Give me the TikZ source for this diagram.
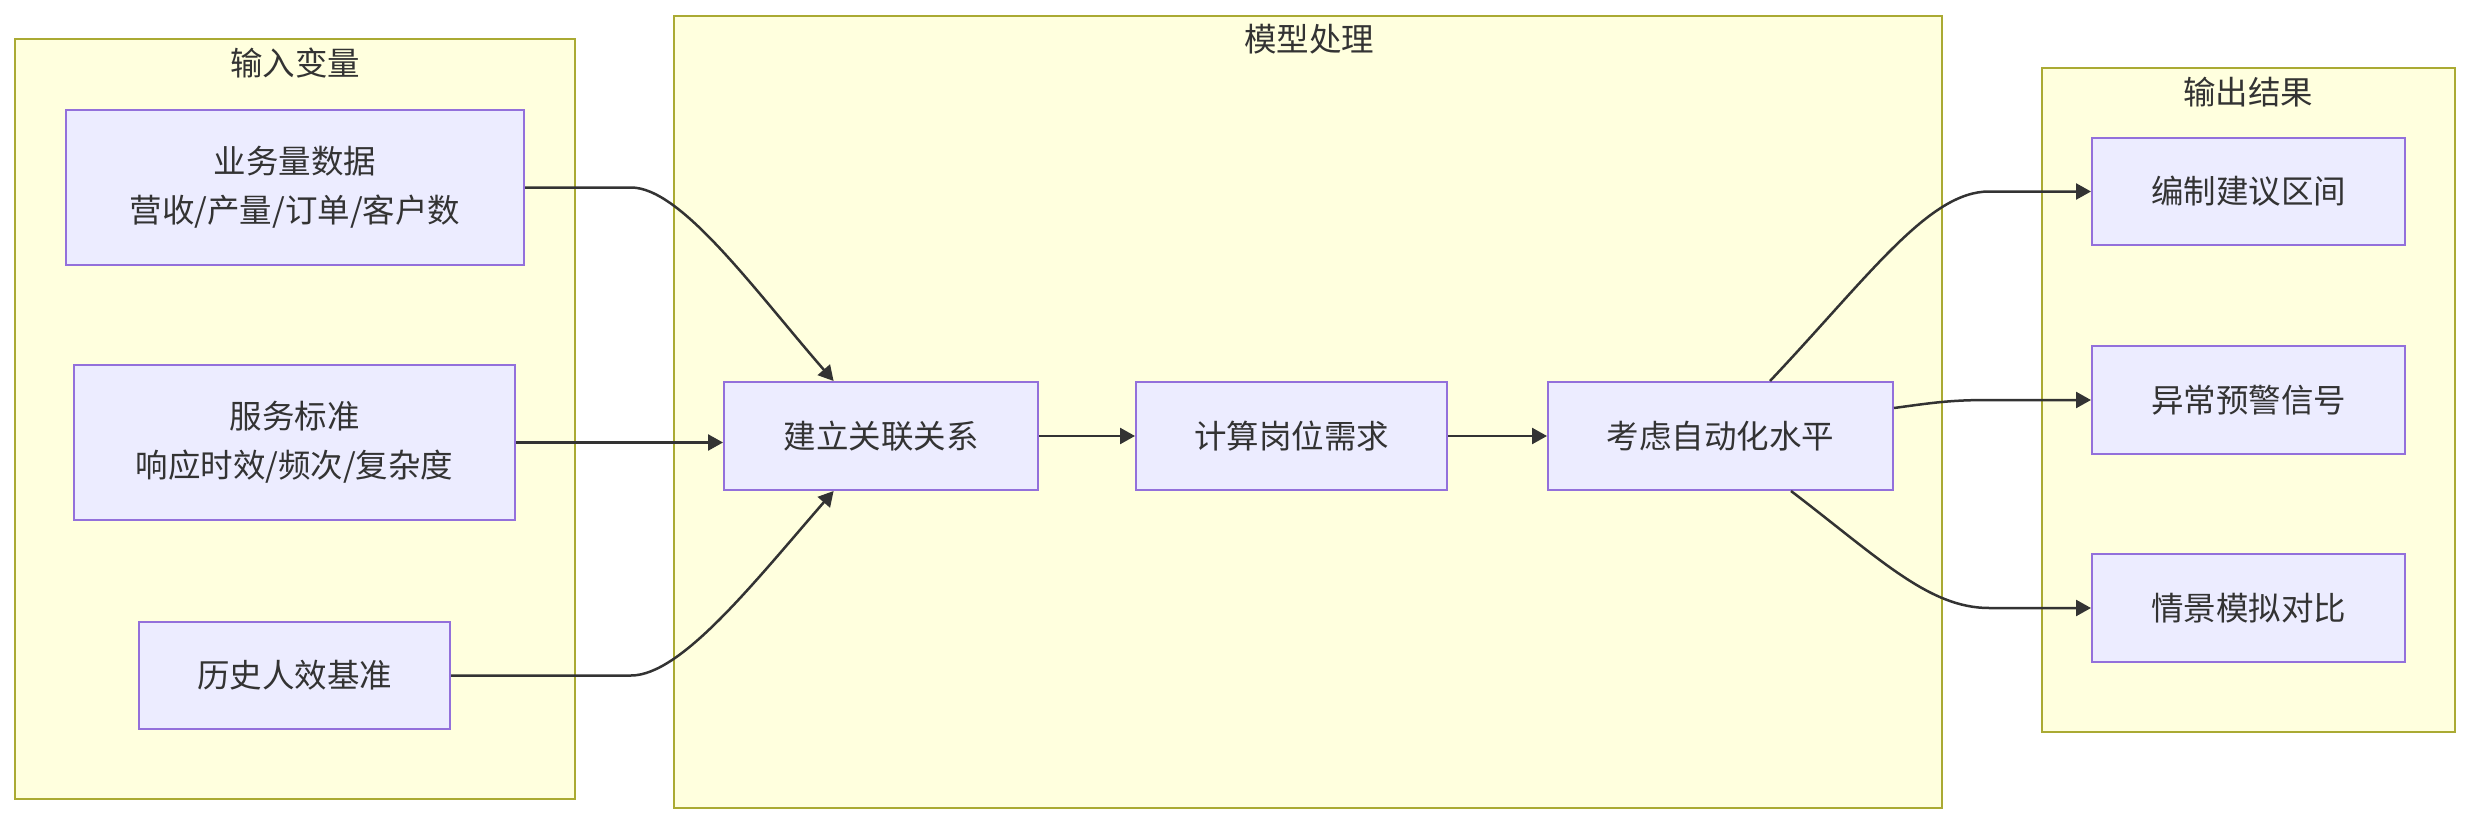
\documentclass[tikz,border=0pt]{standalone}
\usepackage{fontspec}
\setmainfont{Noto Sans CJK SC}
\usetikzlibrary{arrows.meta,calc}
\definecolor{clfill}{HTML}{FFFFDE}
\definecolor{cldraw}{HTML}{AAAA33}
\definecolor{ndfill}{HTML}{ECECFF}
\definecolor{nddraw}{HTML}{9370DB}
\definecolor{txt}{HTML}{333333}
\tikzset{
  cluster/.style={draw=cldraw,fill=clfill,line width=2pt},
  ctitle/.style={text=txt,font=\fontsize{32.5}{40}\selectfont,inner sep=0pt,anchor=center},
  box/.style={draw=nddraw,fill=ndfill,line width=2pt,text=txt,align=center,
    font=\fontsize{32.5}{49}\selectfont,inner sep=0pt,anchor=center},
  arr/.style={draw=txt,line width=2.5pt,-{Triangle[length=15pt,width=16pt]}},
}
\begin{document}
\begin{tikzpicture}[x=1pt,y=-1pt]
\useasboundingbox (0,0) rectangle (2470,824);
\fill[white] (0,0) rectangle (2470,824);
% clusters
\draw[cluster] (15,39) rectangle (575,799);
\node[ctitle] (tin) at (295,63) {输入变量};
\draw[cluster] (674,16) rectangle (1942,808);
\node[ctitle] (tmod) at (1309,39) {模型处理};
\draw[cluster] (2042,68) rectangle (2455,732);
\node[ctitle] (tout) at (2248,92) {输出结果};
% nodes
\node[box,minimum width=458pt,minimum height=155pt] (A) at (295,187.5) {业务量数据\\营收/产量/订单/客户数};
\node[box,minimum width=441pt,minimum height=155pt] (B) at (294.5,442.5) {服务标准\\响应时效/频次/复杂度};
\node[box,minimum width=311pt,minimum height=107pt] (C) at (294.5,675.5) {历史人效基准};
\node[box,minimum width=314pt,minimum height=108pt] (D) at (881,436) {建立关联关系};
\node[box,minimum width=311pt,minimum height=108pt] (E) at (1291.5,436) {计算岗位需求};
\node[box,minimum width=345pt,minimum height=108pt] (F) at (1720.5,436) {考虑自动化水平};
\node[box,minimum width=313pt,minimum height=107pt] (G) at (2248.5,191.5) {编制建议区间};
\node[box,minimum width=313pt,minimum height=108pt] (H) at (2248.5,400) {异常预警信号};
\node[box,minimum width=313pt,minimum height=108pt] (I) at (2248.5,608) {情景模拟对比};
% edges
\draw[arr] (A.east) -- ++(106,0) .. controls +(50,0) and +(-80,-92) .. ($(D.north west)!0.35!(D.north east)$);
\draw[arr] (B.east) -- (B.east -| D.west);
\draw[arr] (C.east) -- ++(180,0) .. controls +(50,0) and +(-80,92) .. ($(D.south west)!0.35!(D.south east)$);
\draw[arr] (D.east) -- (E.west);
\draw[arr] (E.east) -- (F.west);
\draw[arr] ($(F.north)+(49.5,0)$) .. controls +(100,-106) and +(-60,0) .. ($(G.west)+(-102,0)$) -- (G.west);
\draw[arr] ($(F.east)+(0,-28)$) .. controls +(37,-5) and +(-40,0) .. ($(H.west)+(-102,0)$) -- (H.west);
\draw[arr] ($(F.south)+(70.5,0)$) .. controls +(89,68) and +(-60,0) .. ($(I.west)+(-102,0)$) -- (I.west);
\end{tikzpicture}
\end{document}
